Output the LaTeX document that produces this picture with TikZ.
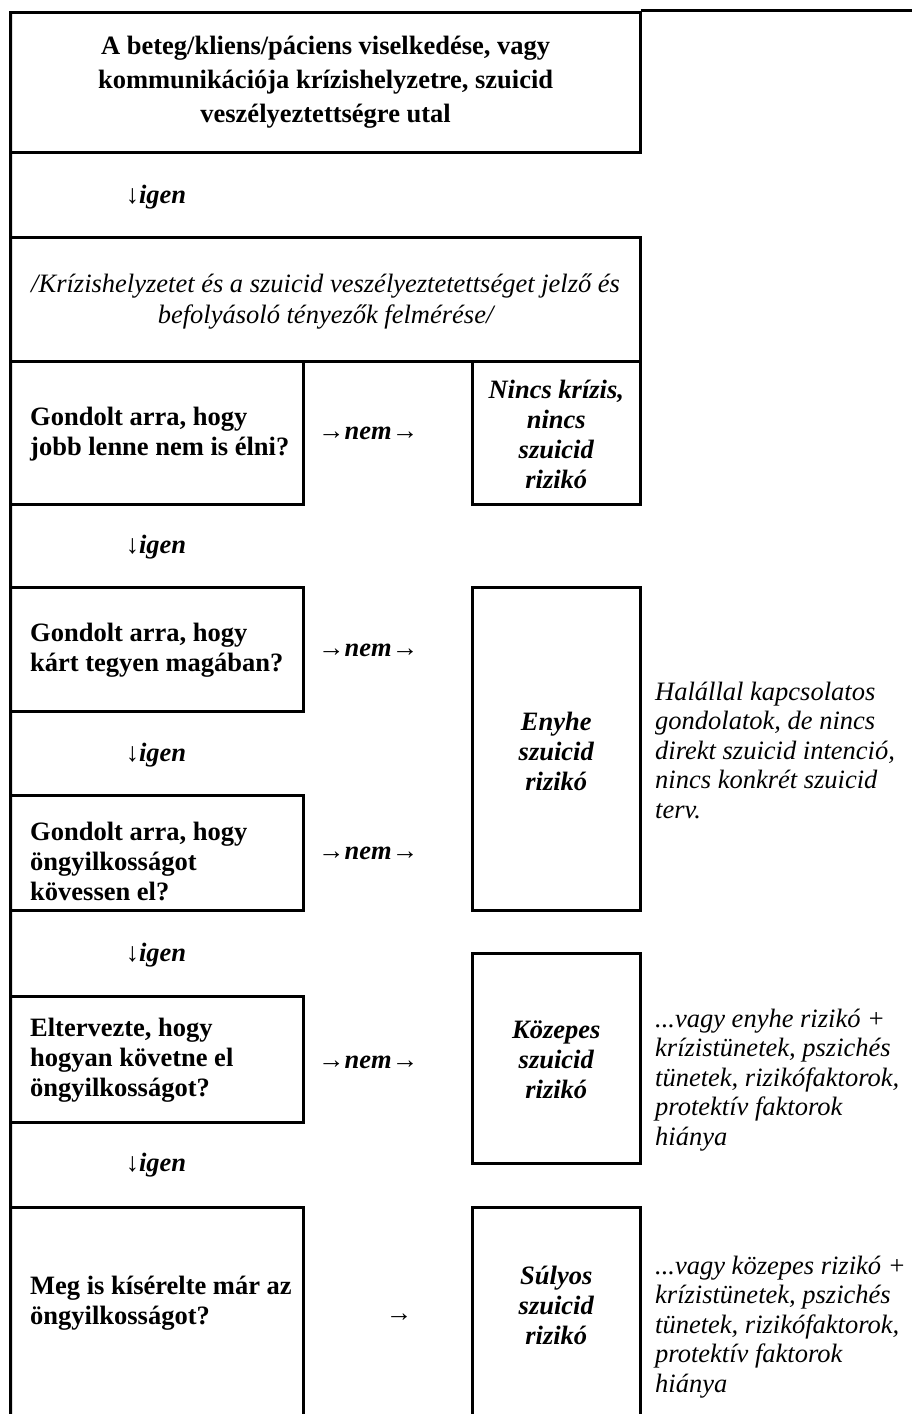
\documentclass[tikz,border=0pt]{standalone}
\usepackage{fontspec}
\setmainfont{Liberation Serif}
\begin{document}
\begin{tikzpicture}[x=1pt,y=-1pt,
  rule/.style={line width=3pt},
  cell/.style={draw,line width=3pt,inner sep=0pt,outer sep=0pt},
  question/.style={font=\fontsize{26.5}{30}\selectfont\bfseries,align=left,anchor=west,inner sep=0pt},
  heading/.style={font=\fontsize{26.5}{34}\selectfont\bfseries,align=center,inner sep=0pt},
  survey/.style={font=\fontsize{26.5}{31}\selectfont\itshape,align=center,inner sep=0pt},
  verdict/.style={font=\fontsize{26.5}{30}\selectfont\bfseries\itshape,align=center,inner sep=0pt},
  note/.style={font=\fontsize{26.5}{29.5}\selectfont\itshape,align=left,anchor=west,inner sep=0pt},
  yes/.style={font=\fontsize{26.5}{30}\selectfont\bfseries\itshape,inner sep=0pt},
]
\fill[white] (0,0) rectangle (911,1414);
\useasboundingbox (0,0) rectangle (911,1414);

% closed cells of the table
\node[cell,minimum width=629.8pt,minimum height=140pt] (start)  at (325.6,82)    {};
\node[cell,minimum width=629.8pt,minimum height=124pt] (survey) at (325.6,299)   {};
\node[cell,minimum width=292.3pt,minimum height=143pt] (q1)     at (156.85,432.5) {};
\node[cell,minimum width=168.5pt,minimum height=143pt] (r0)     at (556.25,432.5) {};
\node[cell,minimum width=292.3pt,minimum height=124pt] (q2)     at (156.85,649)  {};
\node[cell,minimum width=168.5pt,minimum height=323pt] (r1)     at (556.25,748.5) {};
\node[cell,minimum width=292.3pt,minimum height=115pt] (q3)     at (156.85,852.5) {};
\node[cell,minimum width=292.3pt,minimum height=126pt] (q4)     at (156.85,1059) {};
\node[cell,minimum width=168.5pt,minimum height=210pt] (r2)     at (556.25,1058) {};

% cells running off the bottom of the page
\coordinate (q5tl) at (10.7,1207);
\coordinate (q5tr) at (303,1207);
\coordinate (q5bl) at (10.7,1417);
\coordinate (q5br) at (303,1417);
\coordinate (r3tl) at (472,1207);
\coordinate (r3tr) at (640.5,1207);
\coordinate (r3bl) at (472,1417);
\coordinate (r3br) at (640.5,1417);
\draw[rule] (q5bl) -- (q5tl) -- (q5tr) -- (q5br);
\draw[rule] (r3bl) -- (r3tl) -- (r3tr) -- (r3br);

% outer left border and the top rule to the right
\draw[rule] (start.north west) -- (q5bl);
\coordinate (topa) at (640.5,10);
\coordinate (topb) at (913,10);
\draw[rule] (topa) -- (topb);

% texts
\node[heading] (tstart) at (325.6,82) {A beteg/kliens/páciens viselkedése, vagy\\kommunikációja krízishelyzetre, szuicid\\veszélyeztettségre utal};
\node[survey] (tsurvey) at (325.6,302) {/Krízishelyzetet és a szuicid veszélyeztetettséget jelző és\\befolyásoló tényezők felmérése/};

\node[question] (tq1) at (30,434) {Gondolt arra, hogy\\jobb lenne nem is élni?};
\node[question] (tq2) at (30,650) {Gondolt arra, hogy\\kárt tegyen magában?};
\node[question] (tq3) at (30,861) {Gondolt arra, hogy\\öngyilkosságot\\kövessen el?};
\node[question] (tq4) at (30,1060) {Eltervezte, hogy\\hogyan követne el\\öngyilkosságot?};
\node[question] (tq5) at (30,1303) {Meg is kísérelte már az\\öngyilkosságot?};

\node[verdict] (tr0) at (556.25,434) {Nincs krízis,\\nincs\\szuicid\\rizikó};
\node[verdict] (tr1) at (556.25,751) {Enyhe\\szuicid\\rizikó};
\node[verdict] (tr2) at (556.25,1060) {Közepes\\szuicid\\rizikó};
\node[verdict] (tr3) at (556.25,1305) {Súlyos\\szuicid\\rizikó};

\node[note] (n1) at (655,750) {Halállal kapcsolatos\\gondolatok, de nincs\\direkt szuicid intenció,\\nincs konkrét szuicid\\terv.};
\node[note] (n2) at (655,1080) {...vagy enyhe rizikó +\\krízistünetek, pszichés\\tünetek, rizikófaktorok,\\protektív faktorok\\hiánya};
\node[note] (n3) at (655,1327) {...vagy közepes rizikó +\\krízistünetek, pszichés\\tünetek, rizikófaktorok,\\protektív faktorok\\hiánya};

% yes / no transitions written as text arrows
\node[yes] (y0) at (156,197)  {↓igen};
\node[yes] (y1) at (156,547)  {↓igen};
\node[yes] (y2) at (156,755)  {↓igen};
\node[yes] (y3) at (156,955)  {↓igen};
\node[yes] (y4) at (156,1165) {↓igen};

\node[yes,anchor=west] (no1) at (318,433)  {→nem→};
\node[yes,anchor=west] (no2) at (318,650)  {→nem→};
\node[yes,anchor=west] (no3) at (318,853)  {→nem→};
\node[yes,anchor=west] (no4) at (318,1062) {→nem→};
\node[yes] (no5) at (399,1318) {→};
\end{tikzpicture}
\end{document}
